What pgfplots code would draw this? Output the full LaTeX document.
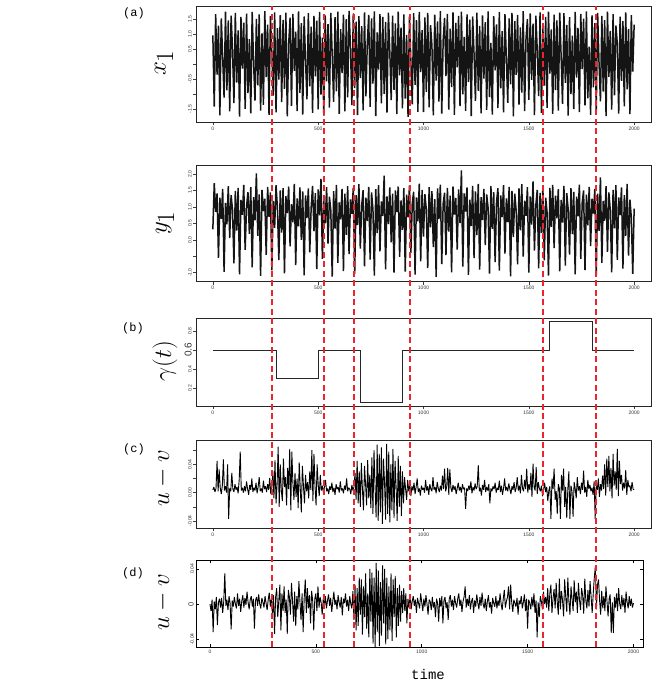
\documentclass[border=0pt]{standalone}
\usepackage{pgfplots}
\pgfplotsset{compat=1.18}
\usepackage{pgfplotstable}
\usepackage{fontspec}
\setsansfont{Liberation Sans}
\setmonofont{Liberation Mono}
\definecolor{cpline}{RGB}{236,36,48}

% x_1 : driver series, one value every 20/3 time units
\pgfplotstableread[row sep=\\,header=false]{
0.95\\-1.42\\1.66\\-0.35\\1.28\\-1.71\\1.52\\0.21\\-1.12\\1.74\\
-0.88\\1.45\\-1.58\\1.61\\0.48\\-1.30\\1.70\\-0.62\\1.12\\-1.75\\
1.57\\-0.15\\1.38\\-1.49\\1.68\\-0.97\\0.83\\-1.64\\1.73\\0.04\\
-1.22\\1.50\\-0.71\\1.65\\-1.55\\1.02\\-1.36\\1.76\\-0.44\\1.31\\
-1.69\\1.59\\0.37\\-1.05\\1.72\\-1.61\\1.19\\-0.52\\1.63\\-1.27\\
1.47\\-0.83\\1.71\\-1.74\\0.66\\1.54\\-1.39\\1.67\\-0.23\\1.08\\
-1.57\\1.75\\-0.96\\1.36\\-1.68\\1.58\\0.12\\-1.18\\1.69\\-0.74\\
1.24\\-1.63\\1.60\\-0.41\\1.44\\-1.51\\1.73\\-1.02\\0.88\\-1.72\\
1.62\\-0.58\\1.33\\-1.45\\1.70\\0.29\\-1.26\\1.56\\-0.91\\1.74\\
-1.66\\1.16\\-0.30\\1.64\\-1.58\\1.49\\-1.11\\1.77\\0.55\\-1.37\\
1.68\\-0.80\\1.41\\-1.70\\1.59\\-0.47\\1.26\\-1.54\\1.72\\-1.08\\
0.73\\1.63\\-1.43\\1.52\\-0.65\\1.75\\-1.73\\1.05\\-0.19\\1.66\\
-1.31\\1.57\\-0.99\\1.40\\-1.62\\1.71\\0.41\\-1.20\\1.61\\-0.86\\
1.35\\-1.67\\1.74\\-0.38\\1.21\\-1.48\\1.65\\-1.15\\0.97\\-1.76\\
1.58\\0.08\\-1.34\\1.69\\-0.69\\1.46\\-1.59\\1.73\\-0.27\\1.13\\
-1.60\\1.55\\-0.93\\1.70\\-1.44\\1.29\\0.62\\-1.71\\1.64\\-0.55\\
1.42\\-1.25\\1.76\\-1.65\\0.79\\1.53\\-0.40\\1.67\\-1.52\\1.18\\
-0.77\\1.72\\-1.69\\1.37\\-0.11\\1.60\\-1.40\\1.74\\-1.01\\0.90\\
-1.56\\1.65\\-0.60\\1.48\\-1.73\\1.58\\0.33\\-1.23\\1.71\\-0.89\\
1.27\\-1.64\\1.62\\-0.49\\1.39\\-1.53\\1.75\\-1.10\\0.70\\-1.68\\
1.59\\-0.21\\1.32\\-1.47\\1.73\\-0.81\\1.09\\-1.61\\1.66\\0.16\\
-1.29\\1.52\\-0.68\\1.70\\-1.74\\1.43\\-0.36\\1.63\\-1.35\\1.22\\
-0.95\\1.76\\-1.57\\0.85\\1.49\\-1.19\\1.68\\-0.53\\1.34\\-1.70\\
1.61\\0.45\\-1.07\\1.72\\-1.63\\1.25\\-0.72\\1.57\\-1.46\\1.74\\
-0.32\\1.15\\-1.66\\1.64\\-0.87\\1.45\\-1.55\\1.71\\0.26\\-1.33\\
1.69\\-0.63\\1.30\\-1.72\\1.56\\-1.00\\0.94\\-1.50\\1.73\\-0.45\\
1.20\\-1.60\\1.67\\-0.17\\1.51\\-1.38\\1.75\\-1.14\\0.58\\-1.69\\
1.62\\-0.78\\1.36\\-1.58\\1.70\\0.02\\-1.24\\1.60\\-0.92\\1.46\\
-1.73\\1.74\\-0.43\\1.10\\-1.52\\1.66\\-1.04\\1.28\\0.68\\-1.65\\
1.58\\-0.56\\1.43\\-1.41\\1.72\\-0.84\\1.17\\-1.67\\1.63\\-0.25\\
1.31\\
}\xone

% y_1 : response series
\pgfplotstableread[row sep=\\,header=false]{
0.32\\1.72\\0.85\\1.41\\-0.55\\1.28\\0.64\\1.55\\-0.98\\1.12\\
0.47\\1.63\\0.05\\1.36\\0.91\\-0.72\\1.49\\0.28\\1.58\\-1.05\\
1.21\\0.76\\1.67\\-0.31\\1.02\\1.45\\0.18\\1.60\\-0.84\\1.30\\
0.59\\2.02\\0.12\\1.38\\-1.10\\1.52\\0.87\\1.25\\-0.46\\1.61\\
0.70\\1.44\\-0.93\\1.18\\0.36\\1.66\\0.95\\-0.62\\1.50\\0.22\\
1.57\\-1.02\\1.33\\0.81\\1.62\\-0.20\\1.08\\0.53\\1.70\\-0.77\\
1.26\\0.41\\1.59\\0.00\\1.47\\-1.08\\1.35\\0.66\\1.56\\-0.38\\
0.98\\1.64\\0.26\\1.42\\-0.89\\1.53\\0.74\\1.85\\-0.58\\1.19\\
0.50\\1.60\\-0.12\\1.31\\0.89\\-1.12\\1.48\\0.34\\1.67\\-0.70\\
1.14\\0.62\\1.55\\-0.95\\1.40\\0.15\\1.63\\-0.44\\1.23\\0.79\\
1.58\\-1.04\\1.36\\0.45\\1.69\\-0.27\\1.05\\1.51\\-0.81\\1.28\\
0.57\\1.61\\-0.60\\1.44\\0.93\\-1.09\\1.54\\0.20\\1.66\\-0.35\\
1.17\\0.72\\1.95\\-0.90\\1.32\\0.48\\1.59\\-0.08\\1.40\\-1.00\\
1.50\\0.84\\1.62\\-0.52\\1.20\\0.30\\1.57\\-0.97\\1.37\\0.68\\
1.65\\-0.40\\1.11\\1.46\\-1.06\\1.29\\0.56\\1.71\\-0.66\\1.52\\
0.10\\1.39\\0.92\\-0.86\\1.60\\0.38\\1.48\\-0.22\\1.24\\-1.13\\
1.56\\0.63\\1.68\\-0.74\\1.09\\1.43\\-0.47\\1.58\\0.25\\1.34\\
-0.99\\1.62\\0.77\\1.27\\-0.30\\1.53\\0.51\\2.11\\-0.82\\1.41\\
0.86\\1.59\\-1.07\\1.22\\0.42\\1.64\\-0.56\\1.47\\0.14\\1.70\\
-0.91\\1.30\\0.60\\1.55\\-0.16\\1.38\\0.97\\-1.03\\1.63\\0.33\\
1.45\\-0.68\\1.15\\1.57\\-0.94\\1.35\\0.69\\1.66\\-0.42\\1.26\\
0.54\\1.61\\-1.11\\1.49\\0.08\\1.40\\0.88\\-0.75\\1.56\\0.29\\
1.69\\-0.51\\1.19\\0.73\\1.60\\-1.00\\1.32\\0.46\\1.78\\-0.33\\
1.06\\1.52\\-0.87\\1.43\\0.21\\1.62\\-0.63\\1.28\\0.83\\-1.09\\
1.58\\0.39\\1.67\\-0.25\\1.34\\0.65\\1.54\\-0.96\\1.21\\0.52\\
1.64\\-0.79\\1.42\\0.94\\-0.45\\1.57\\0.17\\1.46\\-1.05\\1.31\\
0.71\\1.68\\-0.58\\1.13\\1.50\\-0.92\\1.37\\0.44\\1.61\\-0.19\\
1.25\\0.80\\1.55\\-1.10\\1.40\\0.27\\1.90\\-0.70\\1.18\\0.58\\
1.63\\-0.37\\1.44\\0.90\\-0.99\\1.52\\0.35\\1.66\\-0.61\\1.29\\
0.75\\1.59\\-0.88\\1.36\\0.12\\1.70\\-0.48\\1.22\\0.67\\-1.04\\
0.95\\
}\yone

% u-v, panel (c), one value every 5 time units
\pgfplotstableread[row sep=\\,header=false]{
0.004\\0.008\\0.001\\0.006\\0.045\\0.002\\0.033\\0.007\\-0.002\\0.010\\
0.047\\0.003\\0.009\\0.000\\0.040\\-0.037\\0.006\\0.002\\0.028\\0.005\\
0.001\\0.012\\0.004\\0.008\\-0.001\\0.018\\0.058\\0.003\\0.007\\0.000\\
0.009\\0.002\\0.016\\0.005\\-0.003\\0.011\\0.004\\0.020\\0.001\\0.007\\
0.003\\0.014\\-0.001\\0.008\\0.022\\0.002\\0.006\\0.000\\0.017\\0.005\\
0.009\\0.001\\0.012\\0.004\\0.021\\-0.002\\0.007\\0.030\\-0.008\\0.046\\
-0.015\\0.012\\0.065\\-0.020\\0.040\\0.003\\-0.012\\0.048\\0.008\\0.022\\
-0.018\\0.035\\0.005\\0.062\\-0.025\\0.058\\0.014\\-0.010\\0.028\\-0.006\\
0.020\\-0.022\\0.043\\0.006\\-0.028\\0.038\\0.010\\-0.015\\0.025\\0.002\\
0.015\\-0.008\\0.030\\0.004\\0.060\\-0.012\\0.055\\0.009\\-0.018\\0.040\\
0.012\\-0.005\\0.025\\0.003\\0.010\\0.000\\0.008\\0.018\\0.002\\0.006\\
-0.002\\0.009\\0.004\\0.014\\0.001\\0.007\\-0.003\\0.012\\0.005\\0.008\\
0.000\\0.016\\0.003\\0.006\\-0.001\\0.010\\0.004\\0.020\\0.002\\0.007\\
0.005\\-0.002\\0.011\\0.003\\0.008\\0.028\\-0.010\\0.045\\-0.015\\0.030\\
-0.020\\0.042\\0.005\\-0.025\\0.038\\0.012\\-0.018\\0.046\\-0.008\\0.025\\
-0.022\\0.050\\-0.030\\0.060\\0.010\\-0.035\\0.068\\-0.040\\0.055\\-0.028\\
0.064\\-0.044\\0.048\\0.015\\-0.038\\0.069\\-0.030\\0.058\\-0.042\\0.040\\
-0.025\\0.062\\-0.036\\0.045\\0.008\\-0.040\\0.052\\-0.020\\0.038\\-0.033\\
0.030\\-0.015\\0.022\\0.005\\-0.010\\0.018\\0.002\\0.012\\-0.005\\0.009\\
0.003\\0.014\\-0.002\\0.008\\0.020\\0.001\\0.006\\-0.004\\0.010\\0.004\\
0.007\\0.000\\0.018\\0.003\\0.009\\-0.003\\0.012\\0.005\\0.002\\0.022\\
0.004\\0.008\\-0.001\\0.015\\0.006\\0.001\\0.010\\0.003\\0.024\\0.005\\
0.034\\0.002\\0.008\\0.035\\-0.003\\0.033\\0.007\\0.001\\0.011\\0.004\\
0.009\\-0.002\\0.006\\0.014\\0.003\\0.008\\0.000\\0.012\\0.005\\0.007\\
-0.023\\0.006\\0.002\\0.010\\0.004\\0.016\\-0.001\\0.008\\0.003\\0.013\\
0.005\\0.009\\0.039\\0.002\\0.007\\-0.004\\0.011\\0.004\\0.018\\0.001\\
0.008\\0.003\\0.012\\-0.015\\0.006\\0.002\\0.009\\0.005\\0.014\\0.000\\
0.007\\0.004\\0.017\\0.001\\0.010\\-0.003\\0.006\\0.020\\0.003\\0.008\\
0.002\\0.013\\0.005\\-0.002\\0.009\\0.004\\0.015\\0.001\\0.007\\0.022\\
0.003\\0.010\\-0.001\\0.025\\0.006\\0.002\\0.018\\0.005\\0.034\\0.000\\
0.012\\0.004\\0.028\\-0.006\\0.041\\0.008\\0.003\\0.036\\-0.002\\0.015\\
0.006\\0.002\\0.010\\-0.005\\0.004\\0.014\\0.001\\0.008\\-0.012\\0.003\\
0.009\\-0.037\\0.020\\0.005\\0.034\\-0.010\\0.002\\-0.030\\0.012\\0.006\\
-0.037\\0.025\\0.003\\0.034\\-0.020\\0.008\\-0.036\\0.004\\0.030\\-0.037\\
0.010\\0.002\\-0.034\\0.015\\0.006\\-0.008\\0.022\\0.003\\0.009\\-0.002\\
0.014\\0.004\\0.031\\0.000\\0.008\\-0.006\\0.018\\0.005\\0.011\\0.002\\
0.007\\-0.003\\0.016\\-0.037\\0.009\\0.004\\0.020\\-0.006\\0.012\\0.003\\
0.024\\0.005\\0.040\\-0.004\\0.048\\0.008\\0.052\\0.002\\0.035\\-0.008\\
0.055\\0.010\\0.030\\0.004\\0.062\\-0.005\\0.045\\0.012\\0.025\\0.003\\
0.014\\0.006\\0.032\\-0.003\\0.018\\0.008\\0.010\\0.002\\0.015\\0.005\\
0.004\\
}\uvc

% u-v, panel (d)
\pgfplotstableread[row sep=\\,header=false]{
0.000\\-0.008\\0.005\\-0.032\\0.003\\-0.006\\0.008\\-0.024\\0.002\\0.006\\
-0.004\\0.007\\-0.010\\0.003\\0.035\\-0.002\\0.005\\-0.007\\0.009\\0.001\\
-0.029\\0.004\\-0.003\\0.008\\0.000\\-0.005\\0.012\\-0.002\\0.006\\-0.009\\
0.003\\0.010\\-0.004\\0.007\\-0.001\\0.014\\0.002\\-0.006\\0.005\\0.009\\
-0.003\\0.006\\-0.028\\0.004\\0.008\\-0.002\\0.011\\0.000\\-0.005\\0.007\\
0.002\\-0.004\\0.009\\0.001\\-0.007\\0.005\\0.013\\-0.003\\0.006\\-0.012\\
0.010\\-0.034\\0.008\\0.018\\-0.015\\0.004\\0.022\\-0.030\\0.012\\-0.008\\
0.020\\-0.010\\0.005\\-0.034\\0.016\\0.008\\-0.012\\0.024\\0.003\\-0.020\\
0.014\\-0.025\\0.009\\-0.006\\0.026\\0.002\\-0.018\\0.012\\-0.032\\0.007\\
0.028\\-0.010\\0.018\\-0.005\\0.010\\-0.022\\0.015\\0.004\\-0.030\\0.006\\
0.012\\-0.008\\0.020\\-0.004\\0.008\\0.002\\-0.012\\0.006\\-0.003\\0.009\\
-0.005\\0.004\\0.011\\-0.002\\0.007\\-0.009\\0.003\\0.014\\-0.001\\0.005\\
-0.006\\0.010\\0.002\\-0.004\\0.008\\-0.013\\0.006\\0.001\\0.012\\-0.003\\
0.005\\-0.008\\0.009\\0.000\\-0.005\\0.015\\-0.018\\0.022\\-0.030\\0.018\\
-0.025\\0.030\\-0.012\\0.028\\-0.035\\0.020\\-0.015\\0.035\\-0.028\\0.012\\
-0.038\\0.040\\-0.020\\0.036\\-0.045\\0.030\\-0.049\\0.047\\-0.032\\0.038\\
-0.048\\0.025\\-0.036\\0.044\\-0.022\\0.040\\-0.046\\0.030\\-0.040\\0.020\\
-0.030\\0.035\\-0.042\\0.028\\-0.015\\0.032\\-0.038\\0.018\\-0.025\\0.022\\
-0.020\\0.015\\-0.010\\0.018\\-0.008\\0.012\\-0.022\\0.006\\-0.004\\0.010\\
-0.006\\0.003\\0.009\\-0.002\\0.005\\-0.010\\0.007\\0.001\\-0.005\\0.012\\
0.002\\-0.008\\0.006\\-0.003\\0.010\\0.000\\-0.012\\0.005\\0.003\\-0.007\\
0.008\\-0.004\\0.002\\-0.015\\0.006\\0.001\\-0.020\\0.007\\-0.003\\0.009\\
-0.022\\0.004\\0.008\\-0.005\\0.002\\-0.018\\0.006\\0.010\\-0.003\\0.005\\
-0.007\\0.009\\0.001\\-0.004\\0.006\\0.012\\-0.002\\0.005\\-0.009\\0.003\\
0.008\\0.020\\-0.004\\0.006\\-0.002\\0.010\\-0.006\\0.003\\0.007\\-0.010\\
0.004\\-0.003\\0.011\\0.001\\-0.006\\0.008\\-0.002\\0.013\\0.000\\-0.005\\
0.006\\-0.008\\0.003\\0.010\\-0.004\\0.002\\-0.011\\0.007\\0.001\\-0.003\\
0.009\\-0.005\\0.004\\-0.002\\0.012\\0.000\\-0.007\\0.006\\0.016\\-0.004\\
0.003\\0.008\\0.020\\-0.006\\0.022\\0.002\\-0.009\\0.005\\0.001\\-0.003\\
0.007\\-0.012\\0.004\\0.000\\0.009\\-0.005\\0.002\\0.011\\-0.008\\0.006\\
-0.028\\0.005\\0.001\\-0.006\\0.008\\-0.003\\0.012\\-0.010\\0.004\\-0.038\\
0.002\\-0.015\\0.009\\0.003\\-0.006\\0.014\\0.000\\0.008\\-0.004\\0.018\\
-0.008\\0.012\\0.022\\-0.010\\0.006\\0.017\\-0.005\\0.024\\0.002\\-0.012\\
0.029\\-0.006\\0.015\\0.004\\-0.014\\0.028\\0.008\\-0.009\\0.030\\0.003\\
-0.012\\0.020\\0.006\\-0.008\\0.027\\0.002\\0.014\\-0.010\\0.024\\0.005\\
-0.007\\0.018\\0.010\\-0.011\\0.029\\0.004\\-0.005\\0.016\\-0.003\\0.026\\
0.008\\-0.010\\0.012\\0.030\\0.043\\-0.006\\0.022\\0.028\\0.004\\-0.012\\
0.015\\-0.005\\0.009\\-0.008\\0.020\\0.003\\-0.014\\0.006\\0.011\\-0.033\\
0.002\\-0.033\\0.008\\-0.004\\0.012\\-0.008\\0.018\\0.000\\-0.006\\0.010\\
-0.003\\0.007\\-0.010\\0.014\\0.002\\-0.005\\0.009\\-0.002\\0.006\\-0.004\\
0.001\\
}\uvd

\pgfplotsset{
  rpanel/.style={
    scale only axis, width=455pt, xmin=-80, xmax=2080,
    axis line style={line width=0.8pt, black!85},
    tick style={line width=0.4pt, black!75},
    tick align=outside, tick pos=left, major tick length=3pt,
    xtick={0,500,1000,1500,2000}, xticklabels={0,500,1000,1500,2000},
    ticklabel style={font=\sffamily\fontsize{5}{5}\selectfont, text=black!80},
    yticklabel style={rotate=90, anchor=south, inner sep=1.2pt},
    xticklabel style={inner sep=1.5pt},
    scaled y ticks=false,
    /pgf/number format/assume math mode=true,
    clip=false,
  },
  dense/.style={black!92, line width=1.5pt, line join=bevel},
  series/.style={black, line width=0.9pt, line join=bevel},
  cp/.style={cpline, line width=1.6pt, dash pattern=on 6pt off 3.5pt, forget plot},
}

\begin{document}
\begin{tikzpicture}
\useasboundingbox (0pt,0pt) rectangle (654pt,-688pt);

% (a) x_1
\begin{axis}[rpanel, at={(196pt,-6pt)}, anchor=north west, height=116pt,
  ymin=-1.93, ymax=1.93,
  ytick={-1.5,-1,-0.5,0,0.5,1,1.5}, yticklabels={-1.5,,-0.5,,0.5,1.0,1.5}]
\addplot[dense] table[x expr=\coordindex*20/3, y index=0] {\xone};
\end{axis}

% y_1
\begin{axis}[rpanel, at={(196pt,-165.5pt)}, anchor=north west, height=116pt,
  ymin=-1.27, ymax=2.26,
  ytick={-1,-0.5,0,0.5,1,1.5,2}, yticklabels={-1.0,,0.0,0.5,1.0,1.5,2.0}]
\addplot[dense] table[x expr=\coordindex*20/3, y index=0] {\yone};
\end{axis}

% (b) gamma(t)
\begin{axis}[rpanel, at={(196pt,-318pt)}, anchor=north west, height=88pt,
  ymin=0.016, ymax=0.934,
  ytick={0.2,0.4,0.6,0.8},
  yticklabels={0.2,0.4,{\fontsize{10}{10}\selectfont 0.6},0.8}]
\addplot[black!85, line width=0.8pt] coordinates {
  (0,0.6) (300,0.6) (300,0.3) (500,0.3) (500,0.6) (700,0.6) (700,0.05)
  (900,0.05) (900,0.6) (1600,0.6) (1600,0.9) (1800,0.9) (1800,0.6) (2000,0.6)};
\end{axis}

% (c) u-v
\begin{axis}[rpanel, at={(196pt,-440pt)}, anchor=north west, height=88pt,
  ymin=-0.050, ymax=0.0745,
  ytick={-0.04,-0.02,0,0.02,0.04,0.06}, yticklabels={-0.04,,0.00,,0.04,}]
\addplot[series] table[x expr=\coordindex*5, y index=0] {\uvc};
\end{axis}

% (d) u-v
\begin{axis}[scale only axis, at={(196pt,-560pt)}, anchor=north west,
  width=447pt, height=87pt, xmin=-66, xmax=2045, ymin=-0.049, ymax=0.0502,
  axis line style={line width=0.8pt, black},
  tick style={line width=0.5pt, black},
  tick align=inside, tick pos=both, major tick length=3pt,
  xtick={0,500,1000,1500,2000}, xticklabels={0,500,1000,1500,2000},
  ytick={-0.04,0,0.04},
  yticklabels={-0.04,{\fontsize{7.5}{8}\selectfont 0},0.04},
  scaled y ticks=false,
  ticklabel style={font=\sffamily\fontsize{5}{5}\selectfont, text=black!80},
  yticklabel style={rotate=90, anchor=south, inner sep=2pt},
  xticklabel style={inner sep=2.5pt},
  /pgf/number format/assume math mode=true]
\addplot[series] table[x expr=\coordindex*5, y index=0] {\uvd};
\end{axis}

% change points, across all panels
\begin{axis}[scale only axis, hide axis, at={(196pt,-6pt)}, anchor=north west,
  width=455pt, height=641pt, xmin=-80, xmax=2080, ymin=0, ymax=1]
\addplot[cp] coordinates {(280,0) (280,1)};
\addplot[cp] coordinates {(528,0) (528,1)};
\addplot[cp] coordinates {(670,0) (670,1)};
\addplot[cp] coordinates {(935,0) (935,1)};
\addplot[cp] coordinates {(1567,0) (1567,1)};
\addplot[cp] coordinates {(1820,0) (1820,1)};
\end{axis}

% panel letters and axis titles
\node at (134pt,-13pt) {\ttfamily\fontsize{12}{12}\selectfont (a)};
\node at (133pt,-328pt) {\ttfamily\fontsize{12}{12}\selectfont (b)};
\node at (134pt,-449pt) {\ttfamily\fontsize{12}{12}\selectfont (c)};
\node at (133pt,-573pt) {\ttfamily\fontsize{12}{12}\selectfont (d)};
\node[rotate=90] at (164pt,-63pt) {\fontsize{36}{36}\selectfont $x_1$};
\node[rotate=90] at (165pt,-223pt) {\fontsize{36}{36}\selectfont $y_1$};
\node[rotate=90] at (165pt,-361pt) {\fontsize{38}{38}\selectfont $\gamma(t)$};
\node[rotate=90] at (163pt,-478pt) {\fontsize{28}{28}\selectfont $u-v$};
\node[rotate=90] at (163pt,-602pt) {\fontsize{28}{28}\selectfont $u-v$};
\node at (428pt,-674pt) {\ttfamily\fontsize{14}{14}\selectfont time};
\end{tikzpicture}
\end{document}
